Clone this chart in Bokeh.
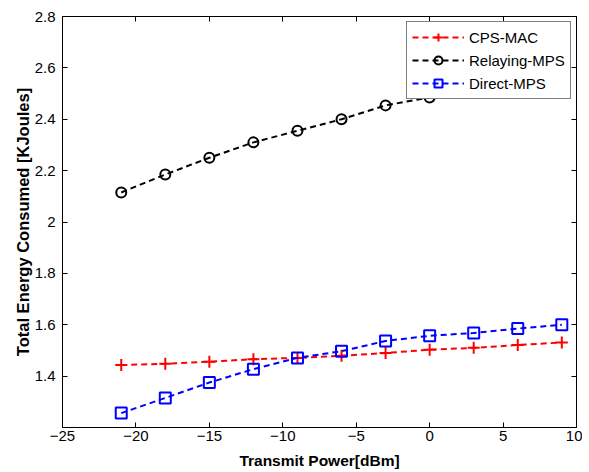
from bokeh.plotting import figure
from bokeh.models import LinearAxis, Range1d, FixedTicker, Legend, LegendItem, CustomJSTickFormatter
from bokeh.embed import file_html
from bokeh.resources import INLINE

x = [-21, -18, -15, -12, -9, -6, -3, 0, 3, 6, 9]
cps_mac = [1.443, 1.448, 1.456, 1.466, 1.471, 1.479, 1.490, 1.503, 1.510, 1.521, 1.531]
relaying_mps = [2.115, 2.185, 2.250, 2.310, 2.355, 2.400, 2.454, 2.485, 2.510, 2.535, 2.560]
direct_mps = [1.256, 1.315, 1.375, 1.427, 1.471, 1.497, 1.537, 1.557, 1.568, 1.585, 1.600]

x_ticks = [-25, -20, -15, -10, -5, 0, 5, 10]
y_ticks = [1.4, 1.6, 1.8, 2.0, 2.2, 2.4, 2.6, 2.8]
y_labels = {1.4: "1.4", 1.6: "1.6", 1.8: "1.8", 2.0: "2", 2.2: "2.2", 2.4: "2.4", 2.6: "2.6", 2.8: "2.8"}

FONT = "Liberation Sans"

p = figure(output_backend="svg", toolbar_location=None,
           frame_width=514, frame_height=411,
           min_border_left=62, min_border_top=16, min_border_right=6, min_border_bottom=40,
           x_range=Range1d(-25, 10), y_range=Range1d(1.2, 2.8))
p.xgrid.visible = False
p.ygrid.visible = False
p.outline_line_color = "black"
p.outline_line_width = 1

for ax in [p.xaxis[0], p.yaxis[0]]:
    ax.major_tick_in = 5
    ax.major_tick_out = 0
    ax.minor_tick_in = 0
    ax.minor_tick_out = 0
    ax.axis_line_color = "black"
    ax.major_label_text_font = FONT
    ax.major_label_text_font_size = "15px"
    ax.major_label_text_color = "black"
    ax.axis_label_text_font = FONT
    ax.axis_label_text_font_style = "bold"
    ax.axis_label_text_color = "black"

p.xaxis[0].ticker = FixedTicker(ticks=x_ticks)
p.yaxis[0].ticker = FixedTicker(ticks=y_ticks)
p.yaxis[0].major_label_overrides = y_labels
p.xaxis[0].axis_label = "Transmit Power[dBm]"
p.yaxis[0].axis_label = "Total Energy Consumed [KJoules]"
p.xaxis[0].axis_label_text_font_size = "15.5px"
p.yaxis[0].axis_label_text_font_size = "16.5px"
p.xaxis[0].axis_label_standoff = 8
p.yaxis[0].axis_label_standoff = 0
p.xaxis[0].major_label_standoff = 3
p.yaxis[0].major_label_standoff = 7

blank = CustomJSTickFormatter(code="return ''")
top = LinearAxis(ticker=FixedTicker(ticks=x_ticks), formatter=blank,
                 major_tick_in=5, major_tick_out=0, minor_tick_in=0, minor_tick_out=0,
                 major_label_standoff=0, axis_line_color="black")
right = LinearAxis(ticker=FixedTicker(ticks=y_ticks), formatter=blank,
                   major_tick_in=5, major_tick_out=0, minor_tick_in=0, minor_tick_out=0,
                   major_label_standoff=0, axis_line_color="black")
p.add_layout(top, "above")
p.add_layout(right, "right")

l1 = p.line(x, cps_mac, line_color="red", line_dash="6 4", line_width=2)
s1 = p.scatter(x, cps_mac, marker="cross", size=12, line_color="red", line_width=2)
l2 = p.line(x, relaying_mps, line_color="black", line_dash="6 4", line_width=2)
s2 = p.scatter(x, relaying_mps, marker="circle", size=10, line_color="black", fill_color=None, line_width=2)
l3 = p.line(x, direct_mps, line_color="blue", line_dash="6 4", line_width=2)
s3 = p.scatter(x, direct_mps, marker="square", size=11, line_color="blue", fill_color=None, line_width=2)

legend = Legend(items=[
    LegendItem(label="CPS-MAC", renderers=[l1, s1]),
    LegendItem(label="Relaying-MPS", renderers=[l2, s2]),
    LegendItem(label="Direct-MPS", renderers=[l3, s3]),
], location=(344, 328))
legend.label_text_font = FONT
legend.label_text_font_size = "15px"
legend.label_text_color = "black"
legend.border_line_color = "black"
legend.border_line_width = 1
legend.background_fill_color = "white"
legend.background_fill_alpha = 1
legend.glyph_width = 52
legend.glyph_height = 20
legend.label_height = 20
legend.spacing = 3
legend.padding = 5
legend.margin = 0
legend.label_standoff = 5
p.add_layout(legend, "center")

open("out.html", "w").write(file_html(p, INLINE))
